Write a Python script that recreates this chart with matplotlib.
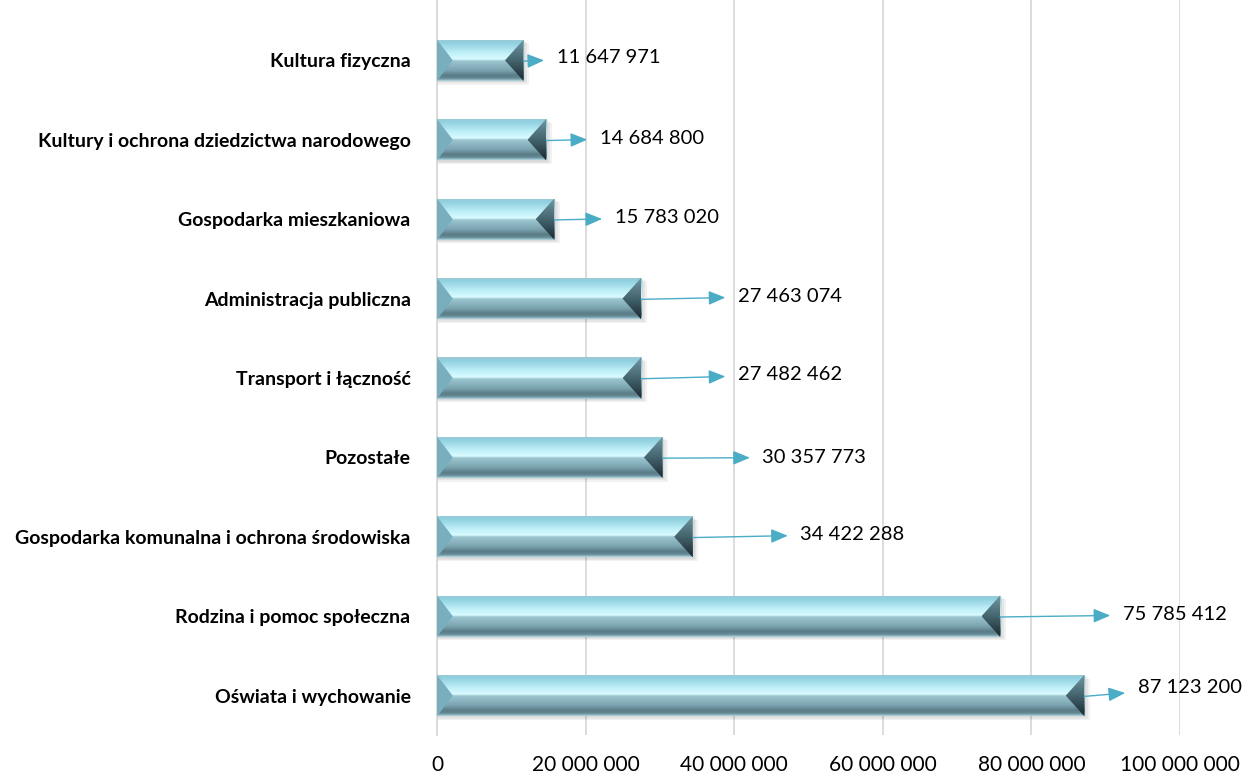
import numpy as np
import matplotlib
matplotlib.use("Agg")
import matplotlib.pyplot as plt
from matplotlib.colors import LinearSegmentedColormap
from matplotlib.patches import Polygon, Rectangle

categories = ["Oświata i wychowanie", "Rodzina i pomoc społeczna",
              "Gospodarka komunalna i ochrona środowiska", "Pozostałe",
              "Transport i łączność", "Administracja publiczna",
              "Gospodarka mieszkaniowa", "Kultury i ochrona dziedzictwa narodowego",
              "Kultura fizyczna"]
values = [87123200, 75785412, 34422288, 30357773, 27482462, 27463074,
          15783020, 14684800, 11647971]
value_labels = ["87 123 200", "75 785 412", "34 422 288", "30 357 773",
                "27 482 462", "27 463 074", "15 783 020", "14 684 800",
                "11 647 971"]
x_ticks = [0, 20000000, 40000000, 60000000, 80000000, 100000000]
x_tick_labels = ["0", "20 000 000", "40 000 000", "60 000 000",
                 "80 000 000", "100 000 000"]

# where the data labels sit (manually placed in the original), in data units
label_x = [94300000, 92300000, 48900000, 43800000, 40500000, 40500000,
           23900000, 21900000, 16100000]
label_dy = [0.1, 0.02, 0.03, 0.0, 0.04, 0.03, 0.02, 0.02, 0.03]

plt.rcParams['font.family'] = ['Lato', 'DejaVu Sans']

fig = plt.figure(figsize=(12.5, 7.74), dpi=100)
ax = fig.add_axes([437/1250, 0.05, (1180-437)/1250, 0.95])

h = 0.52
bevel = 2.5e6
cmap = LinearSegmentedColormap.from_list("bar", [
    (0.0, "#9fc9d3"), (0.08, "#8fd0e0"), (0.35, "#c4f2fa"), (0.48, "#d9fbff"),
    (0.52, "#9cc6d0"), (0.75, "#7aa3b0"), (0.88, "#587b86"), (0.95, "#6b8f9a"),
    (1.0, "#a8d4de")])
end_cmap = LinearSegmentedColormap.from_list("end", ["#6f98a3", "#45656f", "#1b2a30"])
grad = np.linspace(0, 1, 64).reshape(-1, 1)

for i, v in enumerate(values):
    # soft shadow
    for k, a in enumerate([0.05, 0.05, 0.05]):
        ax.add_patch(Rectangle((0, i - h/2 - 0.015*(k + 1)), v + 0.25e6*(k + 1), h,
                               facecolor="#000000", alpha=a, edgecolor="none", zorder=2))
    rect = Rectangle((0, i - h/2), v, h, facecolor="none", edgecolor="none", zorder=3)
    ax.add_patch(rect)
    im = ax.imshow(grad, cmap=cmap, aspect="auto", extent=(0, v, i - h/2, i + h/2),
                   zorder=3, interpolation="bilinear")
    im.set_clip_path(rect)
    ax.add_patch(Polygon([(0, i + h/2), (bevel*0.85, i), (0, i - h/2)],
                         closed=True, facecolor="#78aebd", edgecolor="none", zorder=4))
    tri = Polygon([(v, i + h/2), (v - bevel, i), (v, i - h/2)],
                  closed=True, facecolor="none", edgecolor="none", zorder=4)
    ax.add_patch(tri)
    im2 = ax.imshow(grad, cmap=end_cmap, aspect="auto",
                    extent=(v - bevel, v, i - h/2, i + h/2), zorder=4,
                    interpolation="bilinear")
    im2.set_clip_path(tri)
    ax.annotate(value_labels[i], xy=(v, i - 0.01), xytext=(label_x[i], i + label_dy[i]),
                fontsize=14.5, va="center", ha="left", color="black",
                arrowprops=dict(arrowstyle="<|-,head_length=0.6,head_width=0.25",
                                color="#4bacc6", lw=1.0,
                                shrinkA=7, shrinkB=0, mutation_scale=17),
                zorder=5)

ax.set_xlim(0, 100000000)
ax.set_ylim(-0.5, 8.76)
ax.set_xticks(x_ticks)
ax.set_xticklabels(x_tick_labels, fontsize=15)
ax.set_yticks(range(len(categories)))
ax.set_yticklabels(categories, fontsize=14, fontweight="bold")
ax.tick_params(axis="y", length=0, pad=19)
ax.tick_params(axis="x", length=0, pad=14)
ax.grid(axis="x", color="#d9d9d9", lw=1.3, zorder=0)
ax.set_axisbelow(True)
for s in ["top", "right", "bottom"]:
    ax.spines[s].set_visible(False)
ax.spines["left"].set_color("#d9d9d9")
ax.spines["left"].set_linewidth(1.3)

fig.savefig("out.png", dpi=100)
